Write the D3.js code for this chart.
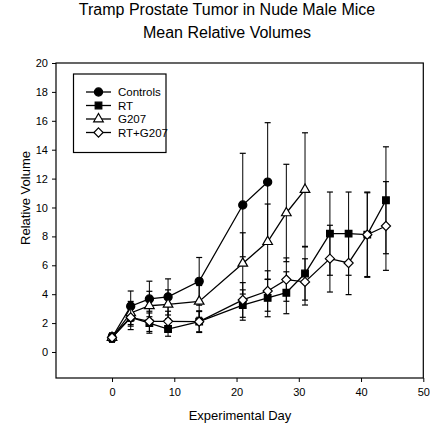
<!DOCTYPE html>
<html>
<head>
<meta charset="utf-8">
<script src="https://cdn.jsdelivr.net/npm/d3@7/dist/d3.min.js"></script>
<style>
  html, body { margin: 0; padding: 0; background: #fff; }
  svg { display: block; font-family: "Liberation Sans", Arial, Helvetica, sans-serif; }
</style>
</head>
<body>
<svg id="chart" width="430" height="427"></svg>
<script>
// ---- Data ----
const days = [0, 3, 6, 9, 14, 21, 25, 28, 31, 35, 38, 41, 44];

const controlsMean = [1.0, 3.17, 3.67, 3.81, 4.89, 10.17, 11.76];
const controlsErr  = [0.3, 1.05, 1.23, 1.25, 1.65, 3.58, 4.11];

const rtMean = [1.0, 2.4, 2.0, 1.59, 2.1, 3.25, 3.74, 4.1, 5.43, 8.19, 8.19, 8.12, 10.5];
const rtErr  = [0.3, 0.85, 0.7, 0.5, 0.75, 1.05, 1.3, 1.45, 1.84, 2.88, 2.88, 2.95, 3.7];

const g207Mean = [1.0, 2.7, 3.2, 3.3, 3.5, 6.13, 7.63, 9.62, 11.24];
const g207Err  = [0.3, 0.8, 1.0, 1.0, 1.1, 2.12, 2.61, 3.37, 3.93];

const rtg207Mean = [1.0, 2.39, 2.12, 2.12, 2.1, 3.6, 4.22, 5.01, 4.85, 6.46, 6.16, 8.12, 8.72];
const rtg207Err  = [0.3, 0.6, 0.7, 0.7, 0.7, 1.2, 1.4, 1.5, 1.6, 2.31, 2.19, 2.9, 3.07];

const seriesNames = ["Controls", "RT", "G207", "RT+G207"];
const xTicks = [0, 10, 20, 30, 40, 50];
const yTicks = [0, 2, 4, 6, 8, 10, 12, 14, 16, 18, 20];

const titleLines = ["Tramp Prostate Tumor in Nude Male Mice", "Mean Relative Volumes"];
const xTitle = "Experimental Day";
const yTitle = "Relative Volume";

// ---- Build ----
const series = [
  { name: seriesNames[0], mean: controlsMean, err: controlsErr, symbol: "circle", fill: "#000" },
  { name: seriesNames[1], mean: rtMean, err: rtErr, symbol: "square", fill: "#000" },
  { name: seriesNames[2], mean: g207Mean, err: g207Err, symbol: "triangle", fill: "#fff" },
  { name: seriesNames[3], mean: rtg207Mean, err: rtg207Err, symbol: "diamond", fill: "#fff" }
];

const svg = d3.select("#chart");
const x = d3.scaleLinear().domain([-9, 50]).range([56, 423.3]);
const y = d3.scaleLinear().domain([-1.8, 20]).range([378, 63]);

const squareDiamond = {
  draw(context, size) {
    const r = Math.sqrt(size / 2);
    context.moveTo(0, -r);
    context.lineTo(r, 0);
    context.lineTo(0, r);
    context.lineTo(-r, 0);
    context.closePath();
  }
};

const symbolGen = {
  circle: d3.symbol().type(d3.symbolCircle).size(52),
  square: d3.symbol().type(d3.symbolSquare).size(44),
  triangle: d3.symbol().type(d3.symbolTriangle).size(40),
  diamond: d3.symbol().type(squareDiamond).size(42)
};

// Titles
svg.selectAll("text.title").data(titleLines).enter().append("text")
  .attr("class", "title")
  .attr("x", 227).attr("y", (d, i) => 15 + i * 23)
  .attr("text-anchor", "middle")
  .attr("font-size", 16)
  .attr("fill", "#000")
  .text(d => d);

// Axes
const xAxis = d3.axisBottom(x).tickValues(xTicks).tickSizeOuter(0).tickSize(4).tickPadding(6);
const yAxis = d3.axisLeft(y).tickValues(yTicks).tickSizeOuter(0).tickSize(4).tickPadding(4);

const gx = svg.append("g").attr("transform", `translate(0,${y.range()[0]})`).call(xAxis);
const gy = svg.append("g").attr("transform", `translate(${x.range()[0]},0)`).call(yAxis);
[gx, gy].forEach(g => {
  g.select(".domain").remove();
  g.selectAll(".tick line").attr("stroke", "#000").attr("stroke-width", 1);
  g.selectAll(".tick text").attr("font-size", 11).attr("fill", "#000")
    .attr("font-family", "'Liberation Sans', Arial, sans-serif");
});

// Frame
svg.append("rect")
  .attr("x", x.range()[0]).attr("y", y.range()[1])
  .attr("width", x.range()[1] - x.range()[0])
  .attr("height", y.range()[0] - y.range()[1])
  .attr("fill", "none").attr("stroke", "#000").attr("stroke-width", 1.2);

// Axis titles
svg.append("text").attr("x", 240).attr("y", 420).attr("text-anchor", "middle")
  .attr("font-size", 13).text(xTitle);
svg.append("text").attr("transform", "translate(30,198) rotate(-90)")
  .attr("text-anchor", "middle").attr("font-size", 13).text(yTitle);

// Series
const line = d3.line().x(d => x(d.day)).y(d => y(d.v));
series.forEach(s => {
  const pts = s.mean.map((v, i) => ({ day: days[i], v, e: s.err[i] }));
  const g = svg.append("g");
  // error bars
  const eb = g.selectAll("g.eb").data(pts).enter().append("g").attr("class", "eb");
  eb.append("line").attr("x1", d => x(d.day)).attr("x2", d => x(d.day))
    .attr("y1", d => y(d.v - d.e)).attr("y2", d => y(d.v + d.e))
    .attr("stroke", "#000").attr("stroke-width", 1);
  [-1, 1].forEach(sg => {
    eb.append("line").attr("x1", d => x(d.day) - 3).attr("x2", d => x(d.day) + 3)
      .attr("y1", d => y(d.v + sg * d.e)).attr("y2", d => y(d.v + sg * d.e))
      .attr("stroke", "#000").attr("stroke-width", 1.2);
  });
  g.append("path").datum(pts).attr("d", line)
    .attr("fill", "none").attr("stroke", "#000").attr("stroke-width", 1.3);
  g.selectAll("path.m").data(pts).enter().append("path").attr("class", "m")
    .attr("d", symbolGen[s.symbol])
    .attr("transform", d => `translate(${x(d.day)},${y(d.v)})`)
    .attr("fill", s.fill).attr("stroke", "#000").attr("stroke-width", 1.2);
});

// Legend
const lg = svg.append("g");
lg.append("rect").attr("x", 73.5).attr("y", 74).attr("width", 92.5).attr("height", 78.5)
  .attr("fill", "#fff").attr("stroke", "#000").attr("stroke-width", 1.2);
series.forEach((s, i) => {
  const ly = 92 + i * 13.5;
  lg.append("line").attr("x1", 86).attr("x2", 111).attr("y1", ly).attr("y2", ly)
    .attr("stroke", "#000").attr("stroke-width", 1.3);
  lg.append("path").attr("d", symbolGen[s.symbol])
    .attr("transform", `translate(98.5,${ly})`)
    .attr("fill", s.fill).attr("stroke", "#000").attr("stroke-width", 1.2);
  lg.append("text").attr("x", 118).attr("y", ly + 4).attr("font-size", 11.5).text(s.name);
});
</script>
</body>
</html>
